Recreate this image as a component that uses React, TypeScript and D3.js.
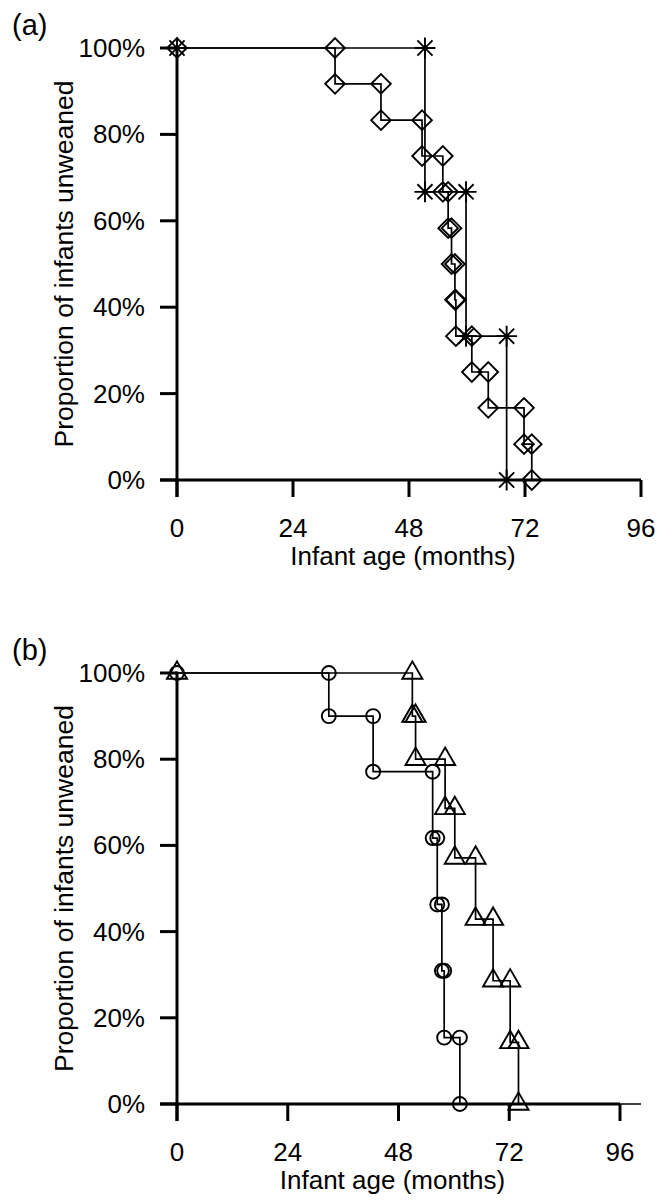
import React from "react";
import * as d3 from "d3";

// ---- data (months, % unweaned) ----
const xTicks = [0, 24, 48, 72, 96];
const yTicks = [0, 20, 40, 60, 80, 100];

// Panel (a)
const aDiamondTimes = [32.7, 42.2, 50.7, 55.0, 56.1, 56.8, 57.5, 57.7, 61.0, 64.4, 71.8, 73.4];
const aDiamondLevels = [91.7, 83.3, 75.0, 66.7, 58.3, 50.0, 41.7, 33.3, 25.0, 16.7, 8.3, 0];
const aStarTimes = [51.3, 59.8, 68.2];
const aStarLevels = [66.7, 33.3, 0];

// Panel (b)
const bCircleTimes = [32.9, 42.5, 55.4, 56.4, 57.4, 57.9, 61.3];
const bCircleLevels = [90.0, 77.1, 61.7, 46.3, 30.9, 15.4, 0];
const bTriTimes = [51.0, 51.7, 58.1, 60.2, 64.7, 68.5, 72.2, 74.0];
const bTriLevels = [90.0, 80.0, 68.6, 57.1, 42.9, 28.6, 14.3, 0];

const FONT = "'Liberation Sans', Arial, Helvetica, sans-serif";

const diamondType = {
  draw(ctx: any, r: number) {
    ctx.moveTo(0, -r);
    ctx.lineTo(r, 0);
    ctx.lineTo(0, r);
    ctx.lineTo(-r, 0);
    ctx.closePath();
  },
};
const starType = {
  draw(ctx: any, r: number) {
    const d = r * 0.72;
    ctx.moveTo(0, -r); ctx.lineTo(0, r);
    ctx.moveTo(-r, 0); ctx.lineTo(r, 0);
    ctx.moveTo(-d, -d); ctx.lineTo(d, d);
    ctx.moveTo(-d, d); ctx.lineTo(d, -d);
  },
};
const circleType = {
  draw(ctx: any, r: number) {
    ctx.moveTo(r, 0);
    ctx.arc(0, 0, r, 0, 2 * Math.PI);
  },
};

type Series = { times: number[]; levels: number[]; symbol: any; size: number };

function buildPoints(times: number[], levels: number[]) {
  const pts: [number, number][] = [[0, 100]];
  times.forEach((t, i) => pts.push([t, levels[i]]));
  return pts;
}

function markerPoints(times: number[], levels: number[]) {
  const m: [number, number][] = [[0, 100]];
  let prev = 100;
  times.forEach((t, i) => {
    m.push([t, prev]);
    m.push([t, levels[i]]);
    prev = levels[i];
  });
  return m;
}

function Panel({
  label, xr, yr, axisEnd, series, labelY,
}: {
  label: string; xr: [number, number]; yr: [number, number]; axisEnd: number;
  series: Series[]; labelY: number;
}) {
  const x = d3.scaleLinear().domain([0, 96]).range(xr);
  const y = d3.scaleLinear().domain([0, 100]).range(yr);
  const x0 = x(0), y0 = y(0), y100 = y(100);
  const line = d3.line<[number, number]>()
    .x((d) => x(d[0]))
    .y((d) => y(d[1]))
    .curve(d3.curveStepAfter);
  const tickLen = 17;
  return (
    <g>
      <text x={12} y={labelY} fontSize={29} fontFamily={FONT}>{label}</text>
      {/* series */}
      {series.map((s, i) => {
        const pts = buildPoints(s.times, s.levels);
        const marks = markerPoints(s.times, s.levels);
        const sym = d3.symbol().type(s.symbol).size(s.size);
        return (
          <g key={i}>
            <path d={line(pts) || ""} fill="none" stroke="#000" strokeWidth={1.7} />
            {marks.map((m, j) => (
              <path key={j} d={sym() || ""} transform={`translate(${x(m[0])},${y(m[1])})`}
                fill="none" stroke="#000" strokeWidth={1.9} />
            ))}
          </g>
        );
      })}
      {/* axes */}
      <line x1={x0 - tickLen} x2={x(96)} y1={y0} y2={y0} stroke="#000" strokeWidth={3} />
      {axisEnd > x(96) && (
        <line x1={x(96)} x2={axisEnd} y1={y0} y2={y0} stroke="#000" strokeWidth={1.5} />
      )}
      <line x1={x0} x2={x0} y1={y100 - 1.5} y2={y0 + tickLen} stroke="#000" strokeWidth={3} />
      {yTicks.map((t) => (
        <g key={"y" + t}>
          <line x1={x0 - tickLen} x2={x0} y1={y(t)} y2={y(t)} stroke="#000" strokeWidth={3} />
          <text x={145} y={y(t) + 9} textAnchor="end" fontSize={26} fontFamily={FONT}>{t + "%"}</text>
        </g>
      ))}
      {xTicks.map((t) => (
        <g key={"x" + t}>
          <line x1={x(t)} x2={x(t)} y1={y0} y2={y0 + tickLen} stroke="#000" strokeWidth={3} />
          <text x={x(t)} y={y0 + 57} textAnchor="middle" fontSize={26} fontFamily={FONT}>{t}</text>
        </g>
      ))}
      <text x={(x(0) + x(96)) / 2 - 6} y={y0 + 85} textAnchor="middle" fontSize={26} fontFamily={FONT}>
        Infant age (months)
      </text>
      <text transform={`translate(73,${(y0 + y100) / 2}) rotate(-90)`} textAnchor="middle"
        fontSize={26.5} fontFamily={FONT}>
        Proportion of infants unweaned
      </text>
    </g>
  );
}

export default function App() {
  return (
    <svg width={666} height={1200} style={{ position: "absolute", left: 0, top: 0, background: "#fff" }}>
      <rect width={666} height={1200} fill="#fff" />
      <Panel
        label="(a)" xr={[177, 641]} yr={[480, 48]} axisEnd={641} labelY={35}
        series={[
          { times: aDiamondTimes, levels: aDiamondLevels, symbol: diamondType, size: 9.8 },
          { times: aStarTimes, levels: aStarLevels, symbol: starType, size: 10.5 },
        ]}
      />
      <Panel
        label="(b)" xr={[177, 620]} yr={[1104, 673]} axisEnd={641} labelY={660}
        series={[
          { times: bCircleTimes, levels: bCircleLevels, symbol: circleType, size: 7 },
          { times: bTriTimes, levels: bTriLevels, symbol: d3.symbolTriangle, size: 175 },
        ]}
      />
    </svg>
  );
}
